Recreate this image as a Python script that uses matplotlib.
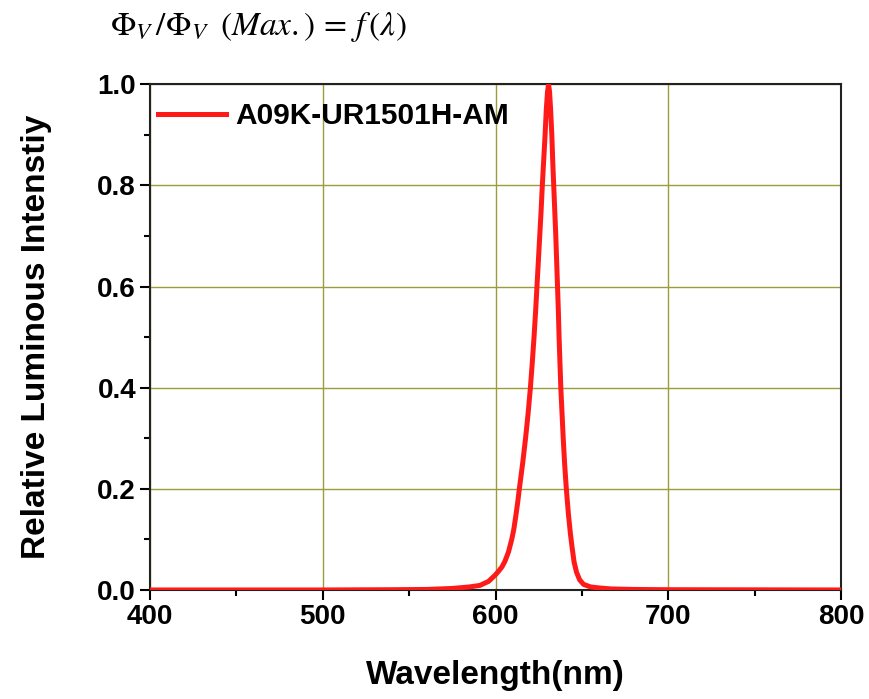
import matplotlib.pyplot as plt
from matplotlib.ticker import MultipleLocator

# spectrum
wavelength = [400, 450, 500, 540, 560, 575, 585, 591, 596, 600, 602, 603.8, 605.5, 607.5,
              609.4, 610.6, 611.7, 612.8, 613.8, 615.7, 617.4, 618.9, 620.2, 621.3, 622.3,
              623.2, 624.0, 624.8, 625.6, 626.4, 627.1, 627.9, 628.7, 629.4, 630.1, 630.7,
              631.3, 631.9, 632.6, 633.1, 633.7, 634.3, 634.9, 635.4, 635.9, 636.4, 636.8,
              637.3, 637.8, 638.5, 639.2, 640.0, 641.0, 642.2, 643.4, 644.3, 645.5, 646.9,
              648.7, 651, 655, 660, 667, 680, 700, 800]
intensity = [0, 0, 0, 0.0005, 0.001, 0.003, 0.006, 0.009, 0.017, 0.03, 0.038, 0.046, 0.057,
             0.075, 0.10, 0.12, 0.145, 0.172, 0.20, 0.25, 0.30, 0.35, 0.40, 0.45, 0.50,
             0.55, 0.60, 0.65, 0.70, 0.75, 0.80, 0.85, 0.90, 0.95, 0.985, 1.00,
             0.985, 0.95, 0.90, 0.85, 0.80, 0.75, 0.70, 0.65, 0.60, 0.55, 0.50,
             0.45, 0.40, 0.35, 0.30, 0.25, 0.20, 0.15, 0.11, 0.085, 0.055, 0.035,
             0.02, 0.011, 0.006, 0.004, 0.002, 0.001, 0.0005, 0]
series_name = 'A09K-UR1501H-AM'

plt.rcParams['font.family'] = ['Liberation Sans', 'DejaVu Sans']
plt.rcParams['mathtext.fontset'] = 'stix'

fig = plt.figure(figsize=(8.69, 6.99), dpi=100)
ax = fig.add_axes([0.1726, 0.156, 0.7952, 0.7234])

ax.plot(wavelength, intensity, color='#ff1a1a', lw=3.6, label=series_name,
        solid_joinstyle='round', zorder=3)

ax.set_xlim(400, 800)
ax.set_ylim(0, 1.0)
ax.xaxis.set_major_locator(MultipleLocator(100))
ax.xaxis.set_minor_locator(MultipleLocator(50))
ax.yaxis.set_major_locator(MultipleLocator(0.2))
ax.yaxis.set_minor_locator(MultipleLocator(0.1))
ax.yaxis.set_major_formatter(plt.FormatStrFormatter('%.1f'))

ax.grid(True, which='major', color='#9c9c3c', lw=1.0)
ax.set_axisbelow(True)
ax.tick_params(which='major', direction='out', length=7, width=1.5, labelsize=20, pad=3)
ax.tick_params(which='minor', direction='out', length=4, width=1.5)
for lbl in ax.get_xticklabels() + ax.get_yticklabels():
    lbl.set_fontweight('bold')
for sp in ax.spines.values():
    sp.set_linewidth(1.5)
    sp.set_color('#222222')

ax.set_xlabel('Wavelength(nm)', fontsize=24, fontweight='bold', labelpad=22)
ax.set_ylabel('Relative Luminous Intenstiy', fontsize=24, fontweight='bold', labelpad=33)

leg = ax.legend(loc='upper left', bbox_to_anchor=(-0.015, 1.0), frameon=False,
                handlelength=2.3, handletextpad=0.3, borderaxespad=0.0, borderpad=0.6,
                prop={'weight': 'bold', 'size': 21.5})

fig.text(0.127, 0.961, r'$\Phi_V\,/\Phi_V\;\;(Max.)\,=\,f\,\left(\lambda\right)$',
         fontsize=24, va='center', ha='left')

fig.savefig('out.png', dpi=100)
